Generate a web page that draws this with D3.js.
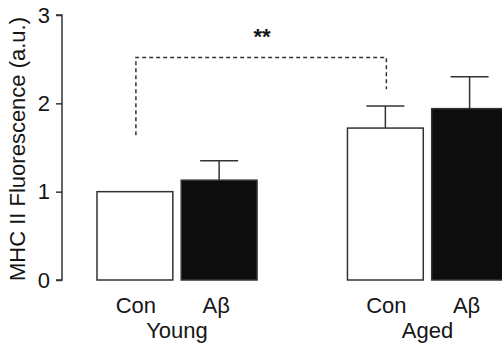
<!DOCTYPE html>
<html>
<head>
<meta charset="utf-8">
<script src="https://cdn.jsdelivr.net/npm/d3@7"></script>
<style>
  html, body { margin: 0; padding: 0; background: #ffffff; }
  svg { display: block; }
  text { font-family: "Liberation Sans", Arial, sans-serif; fill: #151515; }
</style>
</head>
<body>
<div id="chart"></div>
<script>
// Groups, conditions and measured values (mean and SEM)
const groups = ["Young", "Aged"];
const conditions = ["Con", "Aβ"];
const means = [
  [1.00, 1.13],   // Young: Con, Aβ
  [1.72, 1.94]    // Aged:  Con, Aβ
];
const errors = [
  [0.00, 0.22],
  [0.25, 0.36]
];
const yTicks = [0, 1, 2, 3];
const yTitle = "MHC II Fluorescence (a.u.)";
const sigLabel = "**";

const W = 502, H = 345;
const svg = d3.select("#chart").append("svg")
  .attr("width", W).attr("height", H);

const ink = "#333";
const fontSize = 22;

const y = d3.scaleLinear().domain([0, 3]).range([280, 15]);

const x0 = d3.scaleBand().domain(groups)
  .range([97, 507.5]).paddingInner(0.361).paddingOuter(0);
const x1 = d3.scaleBand().domain(conditions)
  .range([0, x0.bandwidth()]).paddingInner(0.1).paddingOuter(0);

// Y axis
const yAxis = d3.axisLeft(y).tickValues(yTicks).tickSize(6).tickPadding(6)
  .tickFormat(d3.format("d"));
const gy = svg.append("g").attr("transform", "translate(62,0)").call(yAxis);
gy.select(".domain").attr("stroke", ink).attr("stroke-width", 1.5)
  .attr("d", `M-6,${y(3)}H0V${y(0)}H-6`);
gy.selectAll(".tick line").attr("stroke", ink).attr("stroke-width", 1.5);
gy.selectAll(".tick text").attr("font-size", fontSize)
  .style("font-family", '"Liberation Sans", Arial, sans-serif').attr("fill", "#151515");

// Y axis title
svg.append("text")
  .attr("transform", `translate(25,149) rotate(-90)`)
  .attr("text-anchor", "middle")
  .attr("font-size", fontSize)
  .text(yTitle);

// Bars
groups.forEach((g, gi) => {
  const gx = x0(g);
  const gEl = svg.append("g").attr("transform", `translate(${gx},0)`);
  conditions.forEach((c, ci) => {
    const v = means[gi][ci];
    const e = errors[gi][ci];
    const bx = x1(c), bw = x1.bandwidth();
    const cx = bx + bw / 2;
    // error bar (upper only)
    if (e > 0) {
      gEl.append("line")
        .attr("x1", cx).attr("x2", cx)
        .attr("y1", y(v)).attr("y2", y(v + e))
        .attr("stroke", ink).attr("stroke-width", 1.5);
      gEl.append("line")
        .attr("x1", cx - 19).attr("x2", cx + 19)
        .attr("y1", y(v + e)).attr("y2", y(v + e))
        .attr("stroke", ink).attr("stroke-width", 1.5);
    }
    gEl.append("rect")
      .attr("x", bx).attr("y", y(v))
      .attr("width", bw).attr("height", y(0) - y(v))
      .attr("fill", ci === 0 ? "#ffffff" : "#0d0d0d")
      .attr("stroke", ink).attr("stroke-width", 1.5);
    // condition label
    gEl.append("text")
      .attr("x", cx + (ci === 0 ? 1 : -3)).attr("y", 313)
      .attr("text-anchor", "middle")
      .attr("font-size", fontSize)
      .text(c);
  });
  // group label
  gEl.append("text")
    .attr("x", x0.bandwidth() / 2).attr("y", 338)
    .attr("text-anchor", "middle")
    .attr("font-size", fontSize)
    .text(g);
});

// Significance bracket between Young Con and Aged Con
const leftX = x0("Young") + x1("Con") + x1.bandwidth() / 2 + 1;
const rightX = x0("Aged") + x1("Con") + x1.bandwidth() / 2 + 1;
const topY = y(2.52);
svg.append("path")
  .attr("d", `M${leftX},${y(1.64)}V${topY}H${rightX}V${y(2.16)}`)
  .attr("fill", "none")
  .attr("stroke", ink).attr("stroke-width", 1.5)
  .attr("stroke-dasharray", "4,3");
svg.append("text")
  .attr("x", (leftX + rightX) / 2 + 1).attr("y", 44)
  .attr("text-anchor", "middle")
  .attr("font-size", fontSize).attr("font-weight", "bold")
  .text(sigLabel);
</script>
</body>
</html>
